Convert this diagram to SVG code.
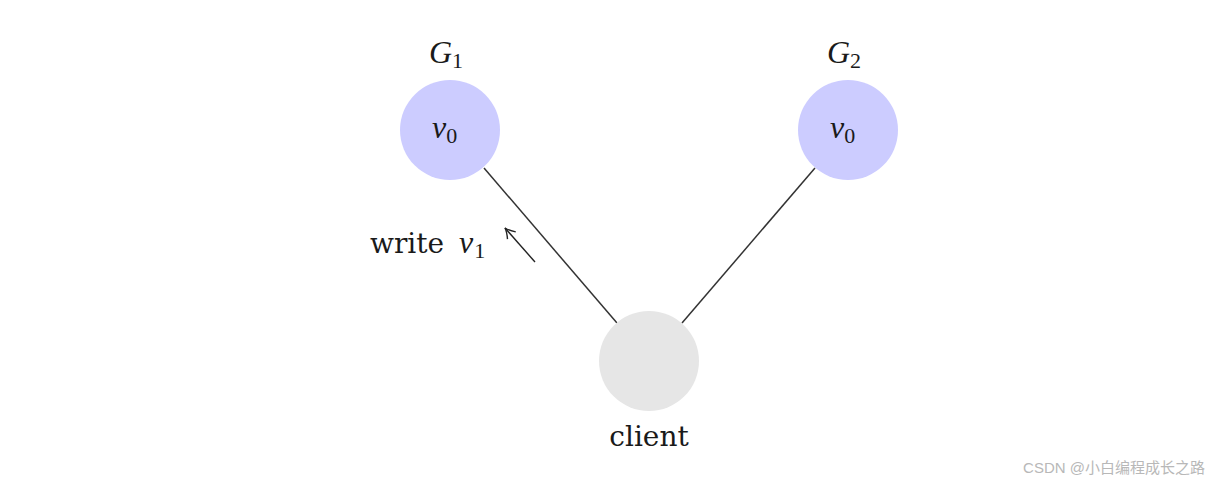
<svg xmlns="http://www.w3.org/2000/svg" width="1219" height="486" viewBox="0 0 1219 486">
<defs>
<style>
.m{font-family:"Liberation Serif","DejaVu Serif",serif;font-style:italic;fill:#1a1a1a}
.sub{font-family:"Liberation Serif","DejaVu Serif",serif;font-style:normal}
.u{font-family:"DejaVu Serif","Liberation Serif",serif;fill:#1a1a1a}
.e{stroke:#333;stroke-width:1.5;fill:none}
</style>
<marker id="ah" markerWidth="14" markerHeight="14" refX="11" refY="7" orient="auto" markerUnits="userSpaceOnUse">
<path d="M1,1.5 Q7,6 11,7 Q7,8 1,12.5" fill="none" stroke="#222" stroke-width="1.4"/>
</marker>
</defs>
<rect width="1219" height="486" fill="#fff"/>
<g id="connectors">
<line class="e" x1="484" y1="168" x2="617" y2="323"/>
<line class="e" x1="815" y1="168" x2="682" y2="323"/>
<line x1="535" y1="262" x2="505" y2="228" stroke="#222" stroke-width="1.4" marker-end="url(#ah)"/>
</g>
<g id="g1">
<circle cx="450" cy="130" r="50" fill="#ccccff"/>
<text class="m" x="429" y="63" font-size="32">G<tspan class="sub" font-size="22" dy="5">1</tspan></text>
<text class="m" x="432" y="138" font-size="32">v<tspan class="sub" font-size="22" dy="5">0</tspan></text>
</g>
<g id="g2">
<circle cx="848" cy="130" r="50" fill="#ccccff"/>
<text class="m" x="827" y="63" font-size="32">G<tspan class="sub" font-size="22" dy="5">2</tspan></text>
<text class="m" x="830" y="138" font-size="32">v<tspan class="sub" font-size="22" dy="5">0</tspan></text>
</g>
<g id="client">
<circle cx="649" cy="361" r="50" fill="#e6e6e6"/>
<text class="u" x="649" y="446" font-size="28" text-anchor="middle">client</text>
</g>
<g id="label">
<text class="u" x="370" y="253" font-size="28">write<tspan class="m" font-size="32" x="459">v</tspan><tspan class="sub" font-size="22" dy="5" dx="1">1</tspan></text>
</g>
<text x="1205" y="473" font-size="15" text-anchor="end" fill="#b8b8b8" style="font-family:'Liberation Sans','Noto Sans CJK SC',sans-serif">CSDN @小白编程成长之路</text>
</svg>
